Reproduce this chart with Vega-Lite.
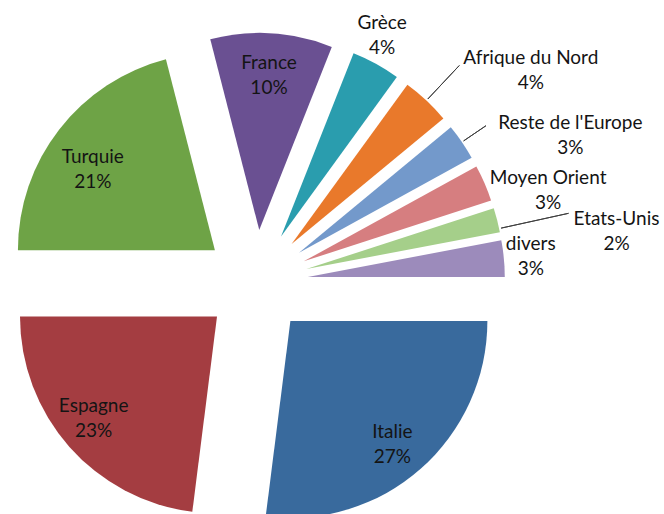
{
  "$schema": "https://vega.github.io/schema/vega-lite/v6.json",
  "width": 512,
  "height": 464,
  "autosize": {"type": "none"},
  "padding": {"left": 0, "top": 50, "right": 152, "bottom": 0},
  "background": "white",
  "config": {
    "view": {"stroke": null},
    "text": {"font": "Lato", "fontSize": 19, "lineHeight": 25, "color": "#141414", "align": "center", "baseline": "middle", "dy": -12.5, "lineBreak": "\n"}
  },
  "data": {
    "values": [
      {"pays": "Italie", "pct": 27},
      {"pays": "Espagne", "pct": 23},
      {"pays": "Turquie", "pct": 21},
      {"pays": "France", "pct": 10},
      {"pays": "Grèce", "pct": 4},
      {"pays": "Afrique du Nord", "pct": 4},
      {"pays": "Reste de l'Europe", "pct": 3},
      {"pays": "Moyen Orient", "pct": 3},
      {"pays": "Etats-Unis", "pct": 2},
      {"pays": "divers", "pct": 3}
    ]
  },
  "transform": [
    {"window": [{"op": "sum", "field": "pct", "as": "e"}], "frame": [null, 0]},
    {"calculate": "datum.e - datum.pct", "as": "s"},
    {"calculate": "datum.e - datum.pct / 2", "as": "m"},
    {"calculate": "datum.pays + '\\n' + datum.pct + '%'", "as": "label"}
  ],
  "encoding": {
    "theta": {"field": "m", "type": "quantitative", "scale": {"domain": [0, 100], "range": [1.5707963268, 7.853981634]}}
  },
  "layer": [
    {
      "mark": {
        "type": "arc",
        "radius": 197,
        "x": {"expr": "width / 2 + 52 * sin(PI / 2 + PI * (datum.s + datum.e) / 100)"},
        "y": {"expr": "height / 2 - 52 * cos(PI / 2 + PI * (datum.s + datum.e) / 100)"}
      },
      "encoding": {
        "theta": {"field": "s", "type": "quantitative"},
        "theta2": {"field": "e"},
        "color": {
          "field": "pays",
          "type": "nominal",
          "legend": null,
          "scale": {
            "domain": ["Italie", "Espagne", "Turquie", "France", "Grèce", "Afrique du Nord", "Reste de l'Europe", "Moyen Orient", "Etats-Unis", "divers"],
            "range": ["#396A9D", "#A43D41", "#6EA346", "#6A5092", "#2A9DAE", "#E9792B", "#7399CB", "#D67E80", "#A5CF8A", "#9C8BBB"]
          }
        }
      }
    },
    {
      "transform": [{"filter": "datum.pays == 'Afrique du Nord'"}],
      "mark": {"type": "arc", "innerRadius": 251, "outerRadius": 297, "fillOpacity": 0, "stroke": "#404040", "strokeWidth": 1},
      "encoding": {"theta2": {"field": "m"}}
    },
    {
      "transform": [{"filter": "datum.pays == \"Reste de l'Europe\""}],
      "mark": {"type": "arc", "innerRadius": 251, "outerRadius": 278, "fillOpacity": 0, "stroke": "#404040", "strokeWidth": 1},
      "encoding": {"theta2": {"field": "m"}}
    },
    {
      "transform": [{"filter": "datum.pays == 'Etats-Unis'"}],
      "mark": {"type": "arc", "innerRadius": 251, "outerRadius": 320, "thetaOffset": 0.035, "theta2Offset": 0.035, "fillOpacity": 0, "stroke": "#404040", "strokeWidth": 1},
      "encoding": {"theta2": {"field": "m"}}
    },
    {
      "transform": [{"filter": "indexof(['Italie', 'Espagne'], datum.pays) >= 0"}],
      "mark": {"type": "text", "radius": 212, "thetaOffset": 0.024},
      "encoding": {"text": {"field": "label"}}
    },
    {
      "transform": [{"filter": "datum.pays == 'France'"}],
      "mark": {"type": "text", "radius": 207},
      "encoding": {"text": {"field": "label"}}
    },
    {
      "transform": [{"filter": "datum.pays == 'Turquie'"}],
      "mark": {"type": "text", "radius": 198, "thetaOffset": -0.058},
      "encoding": {"text": {"field": "label"}}
    },
    {
      "transform": [{"filter": "datum.pays == 'Grèce'"}],
      "mark": {"type": "text", "radius": 277, "thetaOffset": -0.03},
      "encoding": {"text": {"field": "label"}}
    },
    {
      "transform": [{"filter": "datum.pays == 'divers'"}],
      "mark": {"type": "text", "radius": 276},
      "encoding": {"text": {"field": "label"}}
    },
    {
      "transform": [{"filter": "indexof(['Afrique du Nord', \"Reste de l'Europe\"], datum.pays) >= 0"}],
      "mark": {"type": "text", "radius": 347, "thetaOffset": 0.16},
      "encoding": {"text": {"field": "label"}}
    },
    {
      "transform": [{"filter": "datum.pays == 'Moyen Orient'"}],
      "mark": {"type": "text", "radius": 306, "thetaOffset": 0.106},
      "encoding": {"text": {"field": "label"}}
    },
    {
      "transform": [{"filter": "datum.pays == 'Etats-Unis'"}],
      "mark": {"type": "text", "radius": 364, "thetaOffset": 0.113},
      "encoding": {"text": {"field": "label"}}
    }
  ]
}
